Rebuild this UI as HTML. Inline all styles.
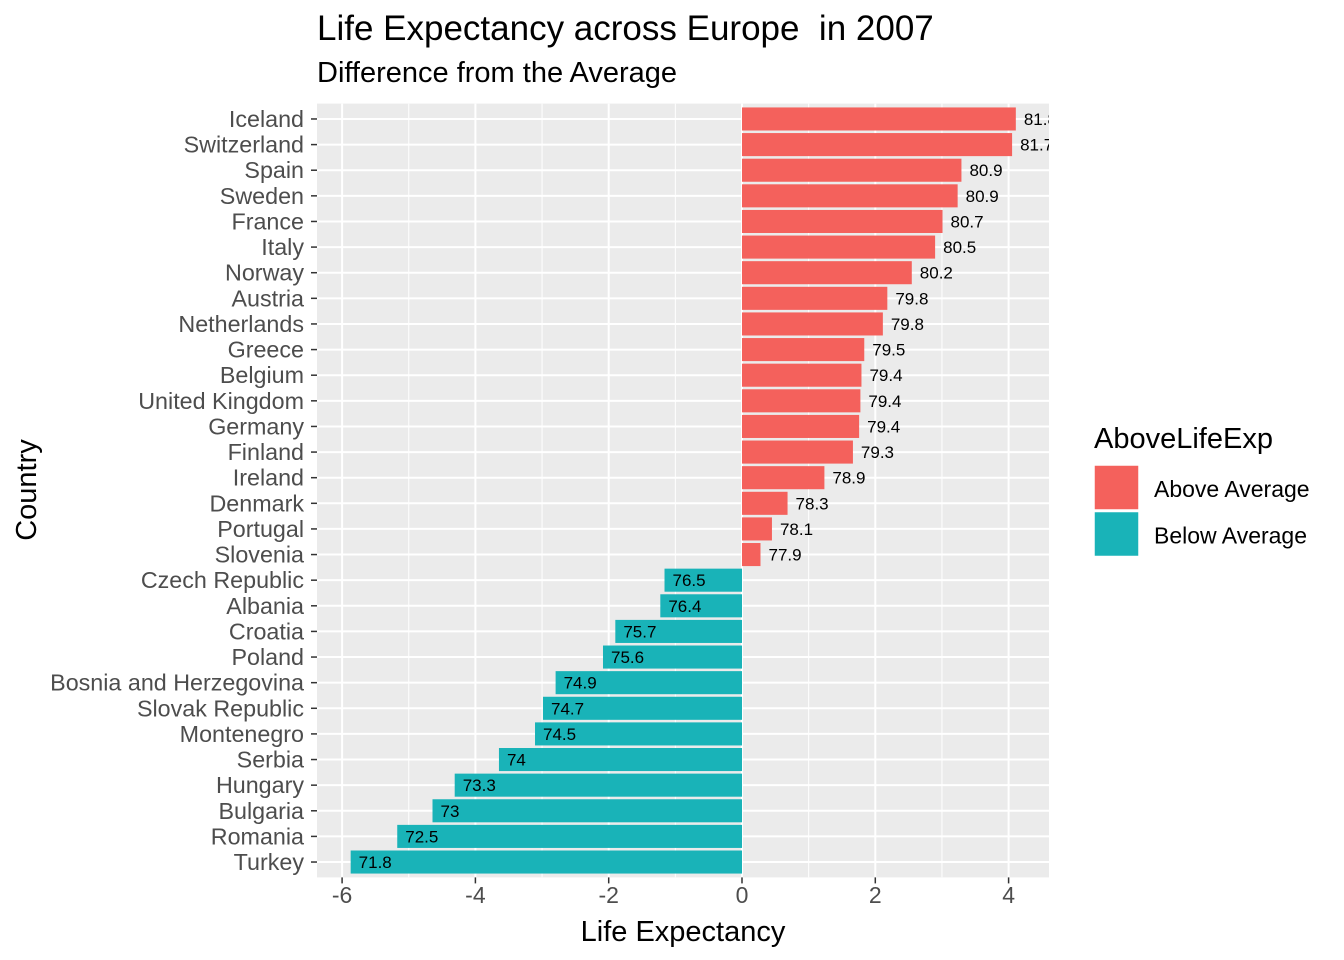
<!DOCTYPE html>
<html><head><meta charset="utf-8"><style>
body{margin:0;background:#fff;}
svg{display:block;font-family:"Liberation Sans",Arial,sans-serif;}
text{white-space:pre;}
</style></head><body>
<svg id="chart" width="1344" height="960"></svg>
<script>
const countries=["Iceland","Switzerland","Spain","Sweden","France","Italy","Norway","Austria","Netherlands","Greece","Belgium","United Kingdom","Germany","Finland","Ireland","Denmark","Portugal","Slovenia","Czech Republic","Albania","Croatia","Poland","Bosnia and Herzegovina","Slovak Republic","Montenegro","Serbia","Hungary","Bulgaria","Romania","Turkey"];
const lifeExp=[81.757,81.701,80.941,80.884,80.657,80.546,80.196,79.829,79.762,79.483,79.441,79.425,79.406,79.313,78.885,78.332,78.098,77.926,76.486,76.423,75.748,75.563,74.852,74.663,74.543,74.002,73.338,73.005,72.476,71.777];
const avgLife=77.6486;
const xTicks=[-6,-4,-2,0,2,4];
const xMinor=[-5,-3,-1,1,3];
const legendLabels=["Above Average","Below Average"];

const NS="http://www.w3.org/2000/svg";
const svg=document.getElementById("chart");
function mk(tag,attrs,parent){const e=document.createElementNS(NS,tag);for(const k in attrs)e.setAttribute(k,attrs[k]);(parent||svg).appendChild(e);return e;}
const PL=317,PR=1049,PT=103.6,PB=877.4;
const pxPerUnit=66.65;
const x=v=>742+v*pxPerUnit;
const step=(PB-PT)/(countries.length+0.2);
const y=i=>PT+0.6*step+i*step;
const colAbove="#F4615C",colBelow="#19B3B8";

const panel=mk("rect",{x:PL,y:PT,width:PR-PL,height:PB-PT,fill:"#EBEBEB"});


const defs=mk("defs",{});
const cp=mk("clipPath",{id:"pc"},defs);
mk("rect",{x:PL,y:PT,width:PR-PL,height:PB-PT},cp);
const g=mk("g",{"clip-path":"url(#pc)"});
xMinor.forEach(v=>{const l=mk("line",{x1:x(v),x2:x(v),y1:PT,y2:PB,stroke:"#fff","stroke-width":1},g);

});
xTicks.forEach(v=>{const l=mk("line",{x1:x(v),x2:x(v),y1:PT,y2:PB,stroke:"#fff","stroke-width":2},g);

});
countries.forEach((c,i)=>{const l=mk("line",{x1:PL,x2:PR,y1:y(i),y2:y(i),stroke:"#fff","stroke-width":2},g);

});
const bw=step*0.9;
countries.forEach((c,i)=>{
  const d=lifeExp[i]-avgLife;
  const x0=Math.min(x(0),x(d)),w=Math.abs(x(d)-x(0));
  const b=mk("rect",{x:x0,y:y(i)-bw/2,width:w,height:bw,fill:d>0?colAbove:colBelow},g);
  
  
  const t=mk("text",{x:x(d)+8,y:y(i)+6,"font-size":17,fill:"#000"},g);
  t.textContent=(Math.round(lifeExp[i]*10)/10).toString();
  
  
  const tk=mk("line",{x1:PL-6,x2:PL,y1:y(i),y2:y(i),stroke:"#333","stroke-width":1.5});
  
  
  const yl=mk("text",{x:304,y:y(i)+8,"font-size":23.3,fill:"#4D4D4D","text-anchor":"end"});
  yl.textContent=c;
  
  
});
xTicks.forEach(v=>{
  const tk=mk("line",{x1:x(v),x2:x(v),y1:PB,y2:PB+6,stroke:"#333","stroke-width":1.5});
  
  
  const t=mk("text",{x:x(v),y:903,"font-size":23,fill:"#4D4D4D","text-anchor":"middle"});
  t.textContent=v;
  
  
});
const title=mk("text",{x:317,y:40,"font-size":35,fill:"#000"});
title.textContent="Life Expectancy across Europe  in 2007";


const sub=mk("text",{x:317,y:82,"font-size":29,fill:"#000"});
sub.textContent="Difference from the Average";


const xt=mk("text",{x:(PL+PR)/2,y:941,"font-size":29,fill:"#000","text-anchor":"middle"});
xt.textContent="Life Expectancy";


const yt=mk("text",{x:0,y:0,"font-size":29,fill:"#000","text-anchor":"middle",transform:"translate(36,490) rotate(-90)"});
yt.textContent="Country";


const lt=mk("text",{x:1094,y:448,"font-size":29,fill:"#000"});
lt.textContent="AboveLifeExp";


legendLabels.forEach((l,i)=>{
  const r=mk("rect",{x:1094,y:465+i*46.5,width:45,height:45,fill:i===0?colAbove:colBelow,stroke:"#fff","stroke-width":1.5});
  
  
  const t=mk("text",{x:1154,y:497+i*46.5,"font-size":23,fill:"#000"});
  t.textContent=l;
  
  
});
</script>
</body></html>
